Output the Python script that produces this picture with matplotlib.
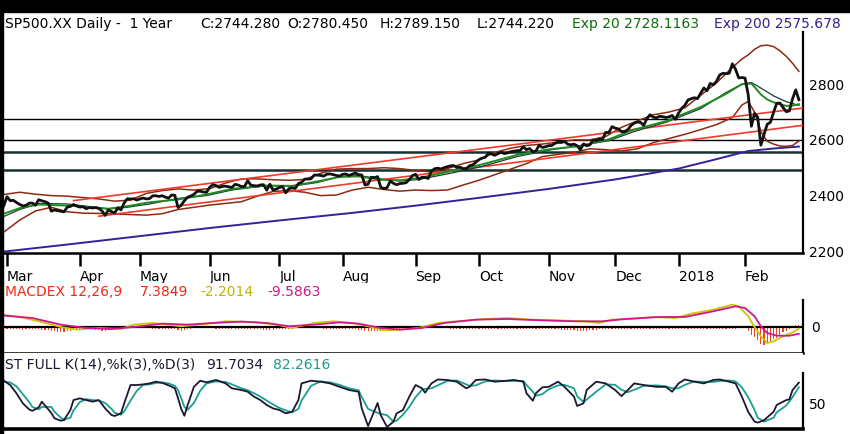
import numpy as np
import matplotlib
matplotlib.use("Agg")
import matplotlib.pyplot as plt
from matplotlib.patches import Rectangle

# daily closes, trading sessions from 28 Feb 2017 to 27 Feb 2018
close = [
    2363.6,
    # Mar
    2396.0, 2381.9, 2383.1, 2375.3, 2368.4, 2363.0, 2364.9, 2372.6, 2373.5, 2365.5, 2385.3, 2381.4,
    2378.3, 2373.5, 2344.0, 2348.5, 2346.0, 2344.0, 2341.6, 2358.6, 2361.1, 2368.1, 2362.7,
    # Apr
    2358.8, 2360.2, 2353.0, 2357.5, 2355.5, 2357.2, 2353.8, 2344.9, 2329.0, 2349.0, 2342.2, 2338.2,
    2355.8, 2348.7, 2374.2, 2388.6, 2387.5, 2388.8, 2384.2,
    # May
    2388.3, 2391.2, 2388.1, 2389.5, 2399.3, 2399.4, 2396.9, 2399.6, 2394.4, 2390.9, 2402.3, 2400.7,
    2357.0, 2365.7, 2381.7, 2394.0, 2398.4, 2404.4, 2415.1, 2415.8, 2412.9, 2411.8,
    # Jun
    2430.1, 2439.1, 2436.1, 2429.3, 2433.1, 2433.8, 2431.8, 2429.4, 2440.4, 2437.9, 2432.5, 2433.2,
    2453.5, 2437.0, 2435.6, 2434.5, 2438.3, 2439.1, 2419.4, 2440.7, 2419.7, 2423.4,
    # Jul
    2429.0, 2432.5, 2409.8, 2425.2, 2427.4, 2425.5, 2443.3, 2447.8, 2459.3, 2459.1, 2460.6, 2473.8,
    2473.5, 2472.5, 2469.9, 2477.1, 2477.8, 2475.4, 2472.1, 2470.3,
    # Aug
    2476.4, 2477.6, 2472.2, 2476.8, 2480.9, 2474.9, 2474.0, 2438.2, 2441.3, 2465.8, 2464.6, 2468.1,
    2430.0, 2425.6, 2428.4, 2452.5, 2444.0, 2439.0, 2443.1, 2444.2, 2446.3, 2457.6, 2471.7,
    # Sep
    2476.6, 2457.9, 2465.5, 2465.1, 2461.4, 2488.1, 2496.5, 2498.4, 2495.6, 2500.2, 2503.9, 2506.7,
    2508.2, 2500.6, 2502.2, 2496.7, 2496.8, 2507.0, 2510.1, 2519.4,
    # Oct
    2529.1, 2534.6, 2537.7, 2552.1, 2549.3, 2544.7, 2550.6, 2555.2, 2550.9, 2553.2, 2557.6, 2559.4,
    2561.3, 2562.1, 2575.2, 2565.0, 2569.1, 2557.2, 2560.4, 2581.1, 2572.8, 2575.3,
    # Nov
    2579.4, 2579.9, 2587.8, 2591.1, 2590.6, 2594.4, 2584.6, 2582.3, 2584.8, 2578.9, 2564.6, 2585.6,
    2578.9, 2582.1, 2599.0, 2597.1, 2602.4, 2601.4, 2627.0, 2626.1, 2647.6,
    # Dec
    2642.2, 2639.4, 2629.6, 2629.3, 2637.0, 2651.5, 2660.0, 2664.1, 2662.9, 2652.0, 2675.8, 2690.2,
    2681.5, 2679.3, 2684.6, 2683.3, 2680.5, 2682.6, 2687.5, 2673.6,
    # Jan 2018
    2695.8, 2713.1, 2724.0, 2743.2, 2747.7, 2751.3, 2748.2, 2767.6, 2786.2, 2776.4, 2802.6, 2798.0,
    2810.3, 2833.0, 2839.1, 2837.5, 2839.3, 2872.9, 2853.5, 2822.4, 2823.8,
    # Feb 2018
    2822.0, 2762.1, 2648.9, 2695.1, 2681.7, 2581.0, 2619.6, 2656.0, 2662.9, 2698.6, 2731.2, 2732.2,
    2716.3, 2701.3, 2704.0, 2747.3, 2779.6, 2744.3,
]

month_start = [1, 24, 43, 65, 87, 107, 130, 150, 172, 193, 213, 234]
month_labels = ["Mar", "Apr", "May", "Jun", "Jul", "Aug", "Sep", "Oct", "Nov", "Dec", "2018", "Feb"]

# indicator lines (session index -> value)
ema20_day = [0, 5, 11, 20, 26, 33, 39, 46, 55, 64, 72, 83, 91, 99, 106, 112, 119, 125, 131, 141,
             151, 162, 172, 182, 191, 199, 209, 220, 228, 233, 236, 237, 239, 241, 243, 245, 247, 249, 251]
ema20 = [2335, 2355, 2368, 2364, 2360, 2353, 2362, 2376, 2386, 2404, 2424, 2436, 2435, 2451, 2467, 2469,
         2457, 2455, 2463, 2487, 2512, 2546, 2566, 2578, 2602, 2637, 2667, 2718, 2765, 2800, 2802, 2790,
         2763, 2745, 2735, 2728, 2722, 2723, 2728]

sma20_day = [0, 5, 11, 20, 26, 33, 39, 46, 55, 64, 72, 83, 91, 99, 106, 112, 119, 125, 131, 141,
             151, 162, 172, 182, 191, 199, 209, 220, 228, 233, 236, 239, 243, 247, 251]
sma20 = [2325, 2350, 2372, 2370, 2362, 2352, 2358, 2370, 2390, 2400, 2420, 2436, 2434, 2447, 2468, 2472,
         2460, 2452, 2458, 2480, 2505, 2540, 2563, 2580, 2597, 2630, 2663, 2712, 2770, 2800, 2806, 2786,
         2758, 2737, 2724]

bb_day = [0, 5, 10, 15, 20, 25, 30, 35, 40, 45, 50, 55, 60, 65, 70, 75, 80, 85, 90, 95, 100, 105, 110,
          115, 120, 125, 130, 135, 140, 145, 150, 155, 160, 165, 170, 175, 180, 185, 190, 195, 200, 205,
          210, 215, 220, 225, 230, 233, 235, 237, 239, 241, 243, 245, 247, 249, 251]
bb_upper = [2404, 2412, 2405, 2400, 2398, 2393, 2388, 2380, 2384, 2408, 2418, 2424, 2420, 2425, 2445,
            2460, 2460, 2457, 2455, 2458, 2480, 2495, 2497, 2497, 2500, 2497, 2490, 2485, 2497, 2515,
            2528, 2555, 2570, 2580, 2585, 2592, 2600, 2600, 2612, 2645, 2668, 2690, 2700, 2715, 2760,
            2805, 2860, 2890, 2905, 2925, 2938, 2940, 2935, 2920, 2900, 2875, 2846]
bb_lower = [2269, 2312, 2345, 2358, 2342, 2337, 2336, 2334, 2332, 2330, 2335, 2350, 2358, 2366, 2372,
            2378, 2398, 2415, 2418, 2412, 2400, 2402, 2420, 2430, 2422, 2416, 2420, 2418, 2420, 2438,
            2455, 2475, 2495, 2515, 2540, 2548, 2555, 2568, 2565, 2560, 2568, 2590, 2605, 2620, 2637,
            2655, 2680, 2725, 2738, 2700, 2630, 2595, 2585, 2578, 2577, 2580, 2596]

ema200_day = [0, 22, 44, 66, 88, 110, 130, 150, 172, 193, 213, 224, 235, 243, 251]
ema200 = [2199, 2227, 2256, 2285, 2312, 2338, 2364, 2392, 2424, 2458, 2497, 2528, 2560, 2569, 2576]

trend_up_day = [22, 252]
trend_up = [2382, 2714]
trend_low_day = [30, 252]
trend_low = [2326, 2652]

levels_thin = [2675, 2600]
levels_thick = [2558, 2493]

# MACD 12,26,9
macd_day = [0, 5, 11, 18, 23, 30, 37, 41, 47, 56, 62, 70, 79, 86, 91, 98, 104, 110, 115, 120, 125, 131,
            137, 143, 152, 159, 167, 175, 183, 188, 192, 198, 205, 212, 217, 224, 230, 232, 235, 237,
            239, 241, 243, 246, 249, 251]
macd = [17, 14, 8, 0, -3.7, -1.4, -2.8, 3.3, 5.6, 1, 3.3, 8, 7, 3.3, -1.4, 5.6, 8, 5.6, 1, -4.7, -3.7,
        -1.4, 5.6, 8, 11.2, 12.6, 10.3, 9.3, 8, 5.6, 10.3, 11.2, 14, 12.6, 18.7, 24.3, 31.3, 29, 15, 0,
        -13, -22.4, -20, -13, -7.5, -2.2]
signal_day = [0, 9, 18, 26, 34, 41, 50, 58, 66, 75, 83, 90, 98, 106, 112, 119, 125, 132, 139, 149, 159,
              170, 180, 189, 196, 207, 215, 224, 231, 234, 237, 239, 241, 244, 248, 251]
signal = [16, 12.6, 3.3, -1.4, -2.8, 0, 4.7, 3.3, 5.6, 7.5, 5.6, 1, 3.3, 6.5, 4.7, -1.4, -3.7, -1.4, 5.6,
          10.3, 11.2, 9.3, 8, 8, 11.2, 14, 14, 22, 29, 26.6, 15, 1, -8.4, -12.2, -12.2, -9.6]
hist = (
    [-3, -3, -3, -3, -3, -3, -4, -3, -3, -3, -3, -3, -4, -4, -4, -5, -6, -7, -7, -7, -6, -5, -4, -4]
    + [-4, -4, -3, -3, -3, -4, -4, -5, -5, -4, -4, -3, -3, -3, -2, -2, -2, -2, -2]
    + [-2, -2, -2, -2, -3, -3, -3, -3, -3, -3, -3, -3, -4, -5, -4, -3, -3, -2, -2, -2, -2, -2]
    + [-2, -2, -3, -3, -3, -3, -3, -3, -3, -3, -3, -3, -3, -3, -3, -3, -3, -4, -4, -4, -4, -3]
    + [-3, -3, -3, -3, -3, -2, -2, -2, -2, -2, -2, -2, -2, -2, -3, -3, -3, -3, -3, -3]
    + [-3, -3, -3, -3, -3, -4, -4, -5, -5, -5, -5, -5, -5, -6, -6, -5, -5, -4, -4, -3, -3, -3, -2]
    + [-2, -2, -2, -2, -2, -2, -2, -2, -2, -2, -2, -3, -3, -3, -3, -3, -3, -3, -3, -3]
    + [-3, -3, -3, -3, -3, -3, -3, -3, -3, -3, -3, -3, -3, -3, -3, -3, -3, -3, -3, -3, -3, -3]
    + [-3, -3, -3, -3, -4, -4, -4, -4, -4, -5, -5, -5, -5, -4, -4, -4, -3, -3, -3, -3, -3]
    + [-3, -3, -3, -3, -3, -3, -3, -3, -3, -3, -3, -3, -3, -3, -3, -3, -3, -3, -3, -3]
    + [-3, -3, -3, -3, -3, -3, -3, -3, -3, -3, -3, -3, -3, -3, -3, -3, -3, -3, -3, -2, -2]
    + [-1.4, -5.6, -10.8, -14, -17.8, -23.4, -24.8, -22.4, -20, -16.8, -15.4, -10.8, -7, -6, -2.8, 0.7,
       3.2, 3.2]
)

# full stochastic 14,3,3
stoch_day = [0, 2, 4, 6, 8, 9, 11, 12, 15, 16, 18, 19, 21, 22, 24, 26, 28, 30, 32, 34, 35, 37, 38, 40,
             42, 44, 46, 48, 50, 52, 54, 55, 56, 57, 58, 60, 62, 64, 67, 70, 72, 75, 77, 79, 81, 83, 85,
             87, 89, 91, 93, 94, 97, 100, 103, 106, 109, 112, 113, 115, 118, 119, 121, 123, 124, 126, 128,
             130, 132, 133, 135, 137, 140, 143, 146, 147, 149, 152, 155, 158, 161, 164, 165, 167, 168, 170,
             172, 175, 177, 180, 181, 183, 184, 187, 190, 193, 195, 197, 199, 202, 206, 209, 211, 213, 215,
             218, 221, 224, 226, 229, 231, 233, 235, 237, 238, 240, 243, 244, 247, 248, 249, 251]
stoch_k = [95.5, 86.7, 69.8, 49.4, 37, 34, 41, 52.7, 29.6, 18.8, 13.9, 15.3, 35.7, 56, 59.5, 56, 52.7, 56,
           39, 25.5, 23.5, 29, 49.4, 86.7, 86.7, 88, 90, 93.5, 91, 86, 80, 60, 38, 24, 45, 83, 95.5, 92.2,
           97, 90, 80, 76.5, 73, 62.9, 56, 46, 39, 35.7, 29, 32, 56, 90, 95.5, 93.5, 90, 83, 76.5, 73, 39,
           3, 50, 25, 1, 12, 29, 35.7, 63, 86.7, 80, 71, 90, 98, 97, 93.5, 80, 83, 97, 98, 93.5, 95, 97,
           93.5, 70, 54.7, 70, 82, 83, 93.5, 83, 63, 44, 49.4, 76.5, 93.5, 90, 76.5, 64, 76.5, 90, 86.7,
           83, 83, 73, 90, 98, 93.5, 90, 97, 98, 93.5, 90, 63, 32, 12, 10, 15, 32, 46, 56, 57.5, 76.5,
           91.7]
stoch_d = [93, 92, 84, 68, 52, 42, 37, 42, 42, 32, 20, 16, 20, 35, 52, 58, 56, 55, 50, 38, 30, 26, 33, 55,
           75, 87, 88, 91, 92, 90, 85, 76, 60, 42, 36, 50, 75, 90, 94, 93, 88, 80, 76, 70, 63, 55, 47, 40,
           35, 31, 38, 55, 85, 94, 92, 87, 80, 76, 62, 38, 30, 28, 25, 12, 14, 26, 42, 62, 77, 79, 80, 86,
           95, 96, 88, 85, 86, 94, 96, 95, 95, 95, 87, 73, 65, 68, 78, 86, 87, 80, 64, 52, 57, 73, 88, 87,
           77, 72, 77, 85, 86, 84, 80, 80, 87, 94, 93, 93, 95, 96, 94, 82, 62, 36, 20, 12, 20, 31, 45, 53,
           62, 82.3]

W, H = 850, 434
FS = 10
fig = plt.figure(figsize=(8.5, 4.34), dpi=100)
fig.patch.set_facecolor("white")


def box(x0, y0, x1, y1):
    return [x0 / W, 1 - y1 / H, (x1 - x0) / W, (y1 - y0) / H]


def ftext(x, y, s, color, size=FS):
    fig.text(x / W, 1 - y / H, s, color=color, fontsize=size, va="center", ha="left",
             family="DejaVu Sans")


days = np.arange(len(close))

# ---- price panel
ax = fig.add_axes(box(3, 12, 803, 253))
for lv in levels_thin:
    ax.axhline(lv, color="black", lw=1.0, zorder=1)
for lv in levels_thick:
    ax.axhline(lv, color="#15302e", lw=1.8, zorder=1)
ax.plot(ema200_day, ema200, color="#3a1f9c", lw=1.4, zorder=2)
ax.plot(bb_day, bb_upper, color="#8b2b10", lw=1.1, zorder=2)
ax.plot(bb_day, bb_lower, color="#8b2b10", lw=1.1, zorder=2)
ax.plot(trend_up_day, trend_up, color="#f03a2a", lw=1.2, zorder=3)
ax.plot(trend_low_day, trend_low, color="#f03a2a", lw=1.2, zorder=3)
ax.plot(sma20_day, sma20, color="#1f3b3b", lw=0.9, zorder=4)
ax.plot(ema20_day, ema20, color="#1e8c1e", lw=1.4, zorder=4)
ax.plot(days, close, color="#111111", lw=2.0, zorder=5)

ax.set_xlim(-0.26, 252.3)
ax.set_ylim(2194, 3059)
for s in ["top", "left"]:
    ax.spines[s].set_visible(False)
ax.spines["bottom"].set_linewidth(1.8)
ax.spines["right"].set_linewidth(1.6)
ax.spines["right"].set_bounds(2194, 2986)
ax.yaxis.tick_right()
ax.set_yticks([2200, 2400, 2600, 2800])
ax.tick_params(axis="y", length=0, pad=4, labelsize=FS)
ax.set_xticks(month_start)
ax.set_xticklabels(month_labels)
ax.tick_params(axis="x", direction="out", length=9, width=1.8, pad=3, labelsize=FS)
for lab in ax.get_xticklabels():
    lab.set_horizontalalignment("left")

# ---- MACD panel
axm = fig.add_axes(box(3, 283, 803, 353))
axm.bar(days, hist, width=0.35, color="#f04020", zorder=1)
axm.axhline(0, color="black", lw=1.6, zorder=2)
axm.plot(macd_day, macd, color="#c8c800", lw=1.3, zorder=3)
axm.plot(signal_day, signal, color="#d4148c", lw=1.3, zorder=4)
axm.set_xlim(-0.26, 252.3)
axm.set_ylim(-36.4, 61.6)
for s in ["top", "left"]:
    axm.spines[s].set_visible(False)
axm.spines["bottom"].set_linewidth(1.8)
axm.spines["right"].set_linewidth(1.6)
axm.spines["right"].set_bounds(-36.4, 37.8)
axm.set_xticks([])
axm.yaxis.tick_right()
axm.set_yticks([0])
axm.tick_params(axis="y", length=0, pad=6, labelsize=FS)

# ---- stochastic panel
axs = fig.add_axes(box(3, 353, 803, 429))
axs.plot(stoch_day, stoch_d, color="#1aa090", lw=1.3, zorder=2)
axs.plot(stoch_day, stoch_k, color="#1c1830", lw=1.3, zorder=3)
axs.set_xlim(-0.26, 252.3)
axs.set_ylim(-3, 152)
for s in ["top", "left"]:
    axs.spines[s].set_visible(False)
axs.spines["bottom"].set_linewidth(2.6)
axs.spines["right"].set_linewidth(1.6)
axs.spines["right"].set_bounds(-3, 111)
axs.set_xticks([])
axs.yaxis.tick_right()
axs.set_yticks([50])
axs.tick_params(axis="y", length=0, pad=4, labelsize=FS)

# black frame strips
fig.patches.append(Rectangle((0, 1 - 12 / H), 1, 12 / H, transform=fig.transFigure,
                             color="black", zorder=10))
fig.patches.append(Rectangle((0, 0), 3 / W, 1, transform=fig.transFigure, color="black", zorder=10))

# header texts
ftext(5, 24, "SP500.XX Daily -  1 Year", "black")
ftext(200, 24, "C:2744.280", "black")
ftext(287, 24, "O:2780.450", "black")
ftext(380, 24, "H:2789.150", "black")
ftext(477, 24, "L:2744.220", "black")
ftext(572, 24, "Exp 20 2728.1163", "#0b6e0b")
ftext(714, 24, "Exp 200 2575.678", "#3b1c8c")

ftext(5, 292, "MACDEX 12,26,9", "#ee2a1a")
ftext(140, 292, "7.3849", "#ee2a1a")
ftext(200, 292, "-2.2014", "#b8b800")
ftext(267, 292, "-9.5863", "#cc1a88")

ftext(5, 365, "ST FULL K(14),%k(3),%D(3)", "#1c1830")
ftext(206, 365, "91.7034", "#1c1830")
ftext(273, 365, "82.2616", "#1a9a8a")

fig.savefig("out.png", dpi=100, facecolor="white")
